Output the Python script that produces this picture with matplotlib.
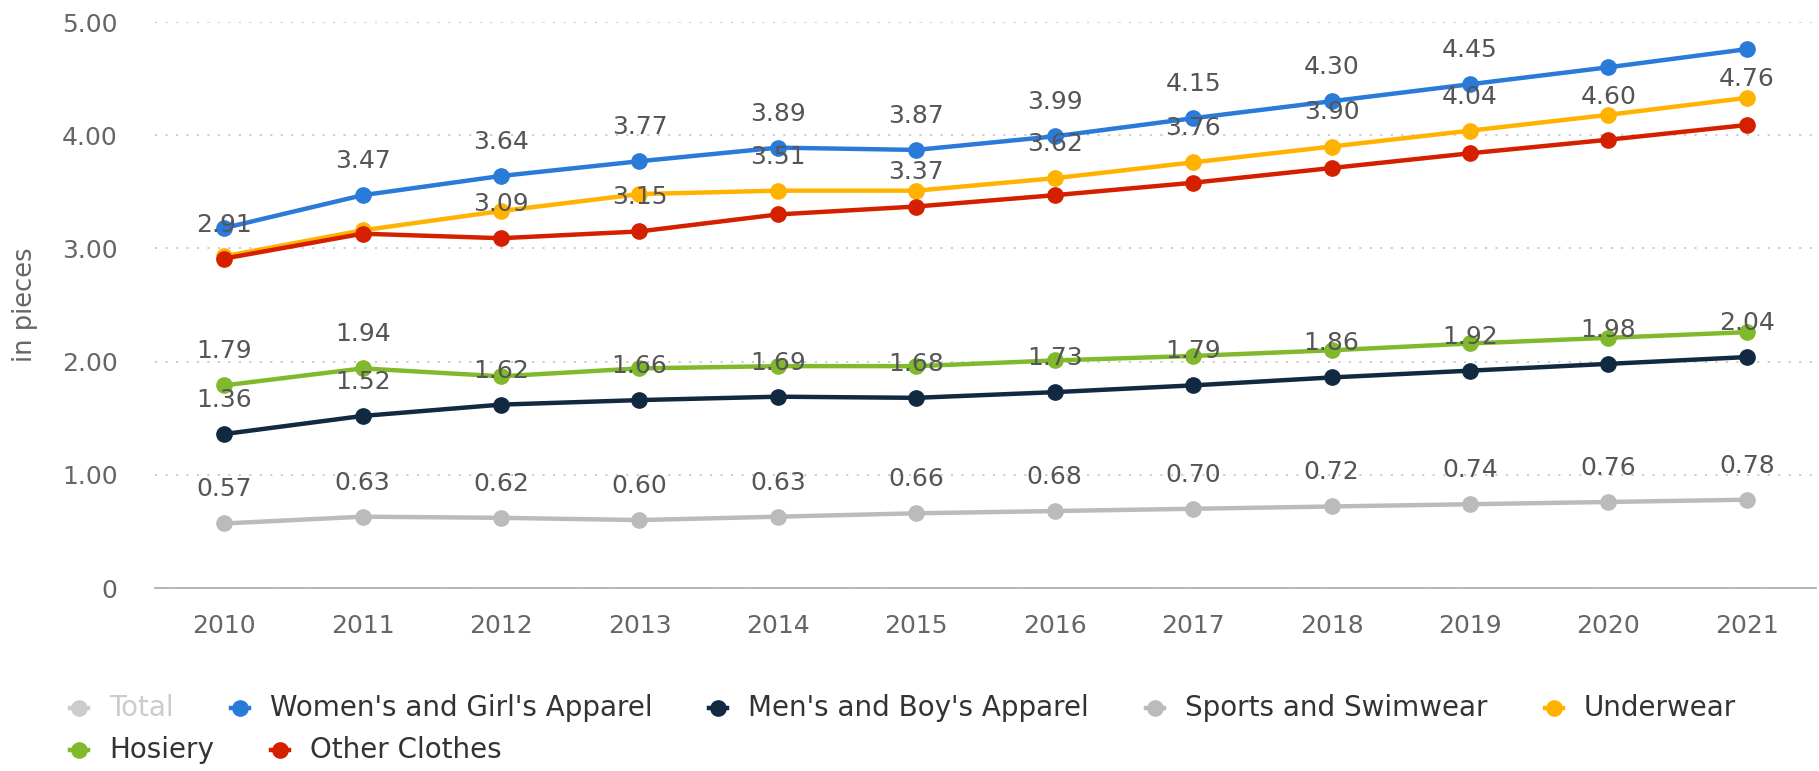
import matplotlib
matplotlib.use("Agg")
import matplotlib.pyplot as plt
from matplotlib.lines import Line2D
import numpy as np

plt.rcParams["font.family"] = ["DejaVu Sans"]

# --- data (in pieces per year) ---
years = ["2010", "2011", "2012", "2013", "2014", "2015", "2016", "2017", "2018", "2019", "2020", "2021"]
womens = [3.18, 3.47, 3.64, 3.77, 3.89, 3.87, 3.99, 4.15, 4.30, 4.45, 4.60, 4.76]
mens = [1.36, 1.52, 1.62, 1.66, 1.69, 1.68, 1.73, 1.79, 1.86, 1.92, 1.98, 2.04]
sports = [0.57, 0.63, 0.62, 0.60, 0.63, 0.66, 0.68, 0.70, 0.72, 0.74, 0.76, 0.78]
underwear = [2.93, 3.16, 3.33, 3.48, 3.51, 3.51, 3.62, 3.76, 3.90, 4.04, 4.18, 4.33]
hosiery = [1.79, 1.94, 1.87, 1.94, 1.96, 1.96, 2.01, 2.05, 2.10, 2.16, 2.21, 2.26]
other = [2.91, 3.13, 3.09, 3.15, 3.30, 3.37, 3.47, 3.58, 3.71, 3.84, 3.96, 4.09]

# which data labels survive (index -> placement)
shown = {
    "womens": {i: "up" for i in range(1, 10)} | {10: "down", 11: "down"},
    "mens": {i: "up" for i in range(12)},
    "sports": {i: "up" for i in range(12)},
    "underwear": {4: "up", 6: "up", 7: "up", 8: "up", 9: "up"},
    "hosiery": {0: "up", 1: "up"},
    "other": {0: "up", 2: "up", 3: "up", 5: "up"},
}

series = [
    ("womens", "Women's and Girl's Apparel", womens, "#2a7ad9"),
    ("mens", "Men's and Boy's Apparel", mens, "#112a42"),
    ("sports", "Sports and Swimwear", sports, "#bbbbbb"),
    ("underwear", "Underwear", underwear, "#ffb300"),
    ("hosiery", "Hosiery", hosiery, "#81b92c"),
    ("other", "Other Clothes", other, "#d52000"),
]

W, H = 1819, 771
fig = plt.figure(figsize=(W / 100, H / 100), dpi=100)
ax = fig.add_axes([155 / W, 1 - 588 / H, (1816 - 155) / W, (588 - 22) / H])

x = np.arange(len(years))
for z, (key, name, vals, col) in enumerate(series):
    ax.plot(x, vals, color=col, lw=3.2, marker="o", ms=11, zorder=3 + z)

for key, name, vals, col in series:
    for i, where in shown[key].items():
        dy = 24.5 if where == "up" else -21.5
        ax.annotate(f"{vals[i]:.2f}", (x[i], vals[i]), xytext=(0, dy), textcoords="offset points",
                    ha="center", va="center", fontsize=18, color="#555555", zorder=20)

ax.set_xlim(-0.5, len(years) - 0.5)
ax.set_ylim(0, 5)
ax.set_xticks(x)
ax.set_xticklabels(years)
ax.set_yticks([0, 1, 2, 3, 4, 5])
ax.set_yticklabels(["0", "1.00", "2.00", "3.00", "4.00", "5.00"])
ax.tick_params(length=0, labelsize=18, labelcolor="#666666")
ax.tick_params(axis="y", pad=27)
ax.tick_params(axis="x", pad=19)
ax.yaxis.grid(True, linestyle=(0, (1.2, 4.6)), color="#c8c8c8", lw=1.3)
ax.set_axisbelow(True)
for s in ["top", "right", "left"]:
    ax.spines[s].set_visible(False)
ax.spines["bottom"].set_color("#aaaaaa")
ax.spines["bottom"].set_linewidth(1.2)

fig.text(25 / W, 1 - 305 / H, "in pieces", rotation=90, ha="center", va="center",
         fontsize=18.5, color="#666666")

# --- legend, flowing like the original ---
rend = fig.canvas.get_renderer()
rows = [
    [("Total", "#cccccc", "#cccccc"), (series[0][1], series[0][3], "#333333"),
     (series[1][1], series[1][3], "#333333"), (series[2][1], series[2][3], "#333333"),
     (series[3][1], series[3][3], "#333333")],
    [(series[4][1], series[4][3], "#333333"), (series[5][1], series[5][3], "#333333")],
]
for yrow, items in zip([708, 750], rows):
    xm = 79
    for label, mcol, tcol in items:
        yf = 1 - yrow / H
        fig.add_artist(Line2D([(xm - 9) / W, (xm + 9) / W], [yf, yf], transform=fig.transFigure,
                              color=mcol, lw=3.2))
        fig.add_artist(Line2D([xm / W], [yf], transform=fig.transFigure, color=mcol,
                              marker="o", ms=11, lw=0))
        t = fig.text((xm + 30) / W, yf, label, ha="left", va="center", fontsize=20, color=tcol)
        wpx = t.get_window_extent(rend).width
        xm = xm + 30 + wpx + 66

fig.savefig("out.png", dpi=100, facecolor="white")
